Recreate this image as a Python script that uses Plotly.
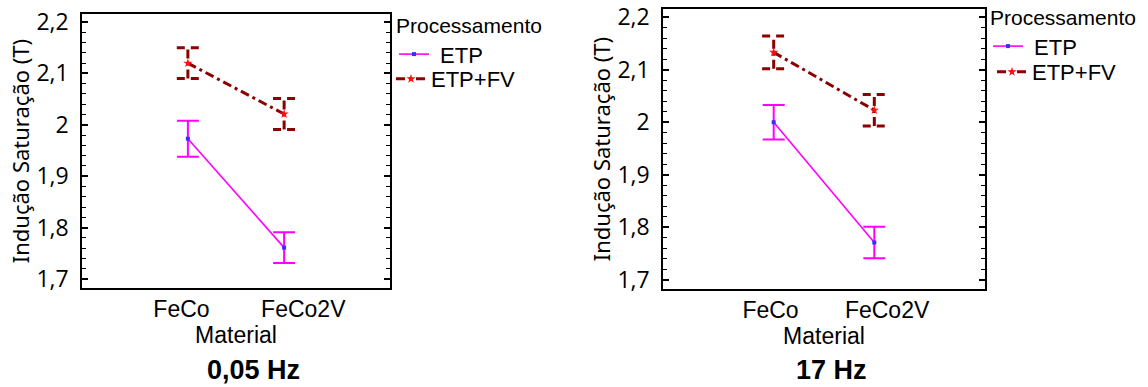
import plotly.graph_objects as go

# ---- data ----
materials = ["FeCo", "FeCo2V"]
series_names = ["ETP", "ETP+FV"]

etp_005 = [1.973, 1.761]
etp_005_err = [0.035, 0.030]
etpfv_005 = [2.120, 2.021]
etpfv_005_err = [0.030, 0.030]

etp_17 = [2.000, 1.771]
etp_17_err = [0.033, 0.030]
etpfv_17 = [2.133, 2.023]
etpfv_17_err = [0.031, 0.030]

y_tickvals = [1.7, 1.8, 1.9, 2.0, 2.1, 2.2]
y_ticktext = ["1,7", "1,8", "1,9", "2", "2,1", "2,2"]
panel_titles = ["0,05 Hz", "17 Hz"]
y_title = "Indução Saturação (T)"
x_title = "Material"
legend_title = "Processamento"

NB = "\u00a0"  # non-breaking space used to nudge label placement

# ---- page geometry (body margin removed by post_script) ----
W, H = 1148, 387


def px(X):
    return X / W


def py(Y):
    return 1 - Y / H


# ---- styles ----
MAGENTA = "#FF00FF"
DARKRED = "#8B0000"
CAP = 0.115  # cap half-width in category units
FV_DASH = "9px,4px,3px,4px"
CAP_DASH = "8px,6px"

xpos = list(range(len(materials)))

fig = go.Figure()


def bar_segments(xs, ys, es):
    vx, vy, cx, cy = [], [], [], []
    for x, y, e in zip(xs, ys, es):
        vx += [x, x, None]
        vy += [y - e, y + e, None]
        for yy in (y - e, y + e):
            cx += [x - CAP, x + CAP, None]
            cy += [yy, yy, None]
    return vx, vy, cx, cy


panels = [
    (etp_005, etp_005_err, etpfv_005, etpfv_005_err, "x", "y", "legend", "legend3"),
    (etp_17, etp_17_err, etpfv_17, etpfv_17_err, "x2", "y2", "legend2", "legend4"),
]

for etp, etp_e, fv, fv_e, xa, ya, lg1, lg2 in panels:
    fig.add_trace(go.Scatter(
        x=xpos, y=etp, mode="lines+markers", name=NB + series_names[0],
        xaxis=xa, yaxis=ya, legend=lg1,
        line=dict(color=MAGENTA, width=1.6),
        marker=dict(symbol="square", size=4, color="#3030FF"),
        error_y=dict(type="data", array=etp_e, visible=True,
                     color=MAGENTA, thickness=2, width=11),
    ))
    vx, vy, cx, cy = bar_segments(xpos, fv, fv_e)
    fig.add_trace(go.Scatter(
        x=vx, y=vy, mode="lines", showlegend=False, hoverinfo="skip",
        xaxis=xa, yaxis=ya, line=dict(color=DARKRED, width=3, dash=FV_DASH)))
    fig.add_trace(go.Scatter(
        x=cx, y=cy, mode="lines", showlegend=False, hoverinfo="skip",
        xaxis=xa, yaxis=ya, line=dict(color=DARKRED, width=3, dash=CAP_DASH)))
    fig.add_trace(go.Scatter(
        x=xpos, y=fv, mode="lines+markers", name=series_names[1],
        xaxis=xa, yaxis=ya, legend=lg2,
        line=dict(color=DARKRED, width=3, dash=FV_DASH),
        marker=dict(symbol="star", size=7, color="#FF1010"),
    ))

tickfont_y = dict(family="Open Sans", size=23, color="black")
tickfont_x = dict(family="Liberation Sans, Arial", size=23, color="black")
titlefont = dict(family="Liberation Sans, Arial", size=23, color="black")
ytitlefont = dict(family="Noto Sans", size=22, color="black")


def yax(domain, anchor):
    return dict(
        domain=domain, range=[1.6825, 2.2156], anchor=anchor, automargin=False,
        tickvals=y_tickvals, ticktext=y_ticktext, tickfont=tickfont_y,
        ticklabelstandoff=7, ticklabeloverflow="allow",
        ticks="inside", ticklen=6, tickwidth=1.5, tickcolor="black",
        minor=dict(dtick=0.02, tick0=1.7, ticks="inside", ticklen=4,
                   tickwidth=1, tickcolor="black", showgrid=False),
        showline=True, linecolor="black", linewidth=1.5, mirror="allticks",
        showgrid=False, zeroline=False,
        title=dict(text=y_title, font=ytitlefont, standoff=1),
    )


def xax(domain, anchor, labels, title):
    return dict(
        domain=domain, range=[-1.1, 2.1], anchor=anchor, automargin=False,
        tickvals=xpos, ticktext=labels, tickfont=tickfont_x, tickangle=0,
        ticklabeloverflow="allow",
        ticks="", showline=True, linecolor="black", linewidth=1.5, mirror=True,
        showgrid=False, zeroline=False,
        title=dict(text=title, font=titlefont, standoff=2),
    )


labels_left = [materials[0] + NB * 2, NB * 6 + materials[1]]
labels_right = [materials[0] + NB, NB * 4 + materials[1]]

legend_font = dict(family="Liberation Sans, Arial", size=22, color="black")
legend_common = dict(
    xanchor="left", yanchor="top", bgcolor="rgba(0,0,0,0)",
    font=legend_font, tracegroupgap=0, itemwidth=30,
)
legend_title_d = dict(text=legend_title,
                      font=dict(family="Liberation Sans, Arial", size=21, color="black"))

fig.update_layout(
    width=W, height=H,
    margin=dict(l=0, r=0, t=0, b=0, autoexpand=False),
    paper_bgcolor="white", plot_bgcolor="white",
    separators=",.",
    xaxis=xax([px(82), px(390)], "y", labels_left, NB * 3 + x_title),
    yaxis=yax([py(288), py(14)], "x"),
    xaxis2=xax([px(663), px(985)], "y2", labels_right, NB * 2 + x_title),
    yaxis2=yax([py(289), py(9)], "x2"),
    legend=dict(legend_common, x=px(394), y=py(6), title=legend_title_d),
    legend3=dict(legend_common, x=px(391), y=py(58)),
    legend2=dict(legend_common, x=px(988), y=py(-2), title=legend_title_d),
    legend4=dict(legend_common, x=px(992), y=py(51)),
)

for title, Xc in zip(panel_titles, [253, 831]):
    fig.add_annotation(
        text="<b>%s</b>" % title, x=px(Xc), y=py(370), xref="paper", yref="paper",
        xanchor="center", yanchor="middle", showarrow=False,
        font=dict(family="Liberation Sans, Arial", size=27, color="black"))

fig.write_html("out.html", config={"displayModeBar": False},
               post_script="document.body.style.margin='0px';")
